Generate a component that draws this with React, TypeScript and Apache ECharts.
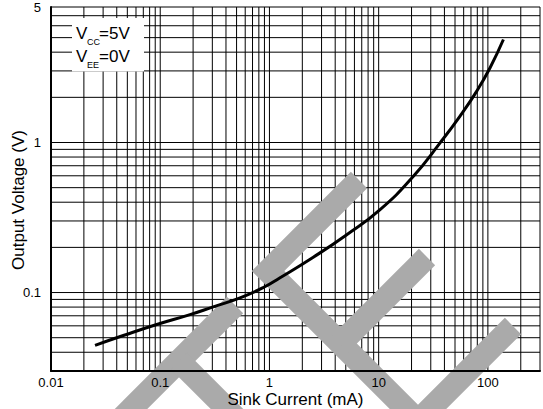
import React, { useEffect, useRef } from 'react';
import * as echarts from 'echarts';

// Sink current (mA) and output voltage (V)
const sinkCurrent = [0.0253, 0.0459, 0.0929, 0.1875, 0.306, 0.538, 0.879, 1.24, 2.52, 5.1, 10.3, 20.8, 36.5, 55.6, 79.1, 104.7, 138.7];
const outputVoltage = [0.0445, 0.0517, 0.0612, 0.0713, 0.0803, 0.0922, 0.108, 0.125, 0.172, 0.243, 0.357, 0.596, 0.995, 1.5, 2.2, 3.15, 4.86];

// axis ticks and labels
const xTickValues = [0.01, 0.1, 1, 10, 100];
const xTickLabels = ['0.01', '0.1', '1', '10', '100'];
const yTickValues = [0.1, 1, 8];
const yTickLabels = ['0.1', '1', '5'];

// log grid lines
const xGridLines = [
  0.02, 0.03, 0.04, 0.05, 0.06, 0.07, 0.08, 0.09, 0.1,
  0.2, 0.3, 0.4, 0.5, 0.6, 0.7, 0.8, 0.9, 1,
  2, 3, 4, 5, 6, 7, 8, 9, 10,
  20, 30, 40, 50, 60, 70, 80, 90, 100,
  200,
];
const yGridLines = [
  0.04, 0.05, 0.06, 0.07, 0.08, 0.09, 0.1,
  0.2, 0.3, 0.4, 0.5, 0.6, 0.7, 0.8, 0.9, 1,
  2, 3, 4, 5, 6, 7,
];

const xMin = 0.01;
const xMax = 300;
const yMin = 0.03;
const yMax = 8;

const FONT = '"Liberation Sans", Arial, Helvetica, sans-serif';

function labelFor(values: number[], labels: string[], v: number): string {
  for (let i = 0; i < values.length; i++) {
    if (Math.abs(Math.log10(v) - Math.log10(values[i])) < 1e-6) return labels[i];
  }
  return '';
}

export default function App() {
  const ref = useRef<HTMLDivElement>(null);

  useEffect(() => {
    if (!ref.current) return;
    const chart = echarts.init(ref.current, null, { renderer: 'svg' });

    const gridData: number[][] = [];
    xGridLines.forEach((v) => gridData.push([v, 1, 0]));
    yGridLines.forEach((v) => gridData.push([1, v, 1]));

    const wm = { stroke: '#aaaaaa', lineWidth: 23, fill: null, lineJoin: 'miter', lineCap: 'butt' };

    const option: any = {
      animation: false,
      backgroundColor: '#ffffff',
      textStyle: { fontFamily: FONT, color: '#000' },
      grid: {
        left: 51,
        top: 7,
        right: 3,
        bottom: 38,
        containLabel: false,
        outerBoundsMode: 'none',
        show: true,
        borderColor: '#000',
        borderWidth: 1,
        backgroundColor: 'transparent',
      },
      xAxis: {
        type: 'log',
        logBase: 10,
        min: xMin,
        max: xMax,
        z: 10,
        name: 'Sink Current (mA)',
        nameLocation: 'middle',
        nameGap: 21,
        nameMoveOverlap: false,
        nameTextStyle: { fontSize: 17, lineHeight: 15, color: '#000', fontFamily: FONT },
        axisLine: { show: true, lineStyle: { color: '#000', width: 2 } },
        axisTick: { show: false },
        splitLine: { show: false },
        axisLabel: {
          color: '#000',
          fontSize: 13,
          lineHeight: 12,
          fontFamily: FONT,
          margin: 5,
          showMinLabel: true,
          showMaxLabel: true,
          formatter: (v: number) => labelFor(xTickValues, xTickLabels, v),
        },
      },
      yAxis: {
        type: 'log',
        logBase: 10,
        min: yMin,
        max: yMax,
        z: 10,
        name: 'Output Voltage (V)',
        nameLocation: 'middle',
        nameGap: 24,
        nameMoveOverlap: false,
        nameTextStyle: { fontSize: 17, color: '#000', fontFamily: FONT, padding: [0, 22, 0, 0] },
        axisLine: { show: true, lineStyle: { color: '#000', width: 2 } },
        axisTick: { show: false },
        splitLine: { show: false },
        axisLabel: {
          color: '#000',
          fontSize: 13,
          fontFamily: FONT,
          margin: 10,
          showMinLabel: true,
          showMaxLabel: true,
          formatter: (v: number) => labelFor(yTickValues, yTickLabels, v),
        },
      },
      series: [
        {
          type: 'custom',
          z: 1,
          silent: true,
          encode: { x: 0, y: 1 },
          data: gridData,
          renderItem: (params: any, api: any) => {
            const cs = params.coordSys;
            const p = api.coord([api.value(0), api.value(1)]);
            const kind = api.value(2);
            const style = { stroke: '#000', lineWidth: 1 };
            if (kind === 0) {
              return { type: 'line', shape: { x1: p[0], y1: cs.y, x2: p[0], y2: cs.y + cs.height }, style };
            }
            return { type: 'line', shape: { x1: cs.x, y1: p[1], x2: cs.x + cs.width, y2: p[1] }, style };
          },
        },
        {
          type: 'line',
          z: 20,
          data: sinkCurrent.map((x, i) => [x, outputVoltage[i]]),
          smooth: 0.5,
          showSymbol: false,
          symbol: 'none',
          lineStyle: { color: '#000', width: 3 },
        },
      ],
      graphic: {
        elements: [
          { type: 'polyline', z: 3, silent: true, shape: { points: [[359, 180], [268, 271], [418, 421], [513, 326]] }, style: wm },
          { type: 'line', z: 3, silent: true, shape: { x1: 427, y1: 257, x2: 340, y2: 344 }, style: wm },
          { type: 'line', z: 3, silent: true, shape: { x1: 235, y1: 305, x2: 100, y2: 440 }, style: wm },
          { type: 'line', z: 3, silent: true, shape: { x1: 179, y1: 361, x2: 260, y2: 442 }, style: wm },
          { type: 'rect', z: 15, silent: true, shape: { x: 72, y: 18, width: 72, height: 53.5 }, style: { fill: '#fff' } },
          { type: 'text', z: 16, x: 76, y: 33, style: { text: 'V', fontSize: 17, fontFamily: FONT, fill: '#000', align: 'left', verticalAlign: 'middle' } },
          { type: 'text', z: 16, x: 87, y: 41.5, style: { text: 'CC', fontSize: 9, fontFamily: FONT, fill: '#000', align: 'left', verticalAlign: 'middle' } },
          { type: 'text', z: 16, x: 99, y: 33, style: { text: '=5V', fontSize: 17, fontFamily: FONT, fill: '#000', align: 'left', verticalAlign: 'middle' } },
          { type: 'text', z: 16, x: 76, y: 56.5, style: { text: 'V', fontSize: 17, fontFamily: FONT, fill: '#000', align: 'left', verticalAlign: 'middle' } },
          { type: 'text', z: 16, x: 87, y: 65, style: { text: 'EE', fontSize: 9, fontFamily: FONT, fill: '#000', align: 'left', verticalAlign: 'middle' } },
          { type: 'text', z: 16, x: 99, y: 56.5, style: { text: '=0V', fontSize: 17, fontFamily: FONT, fill: '#000', align: 'left', verticalAlign: 'middle' } },
        ],
      },
    };

    chart.setOption(option);
    return () => {
      chart.dispose();
    };
  }, []);

  return (
    <div
      ref={ref}
      style={{ position: 'absolute', left: 0, top: 0, width: 543, height: 409, background: '#fff' }}
    />
  );
}
